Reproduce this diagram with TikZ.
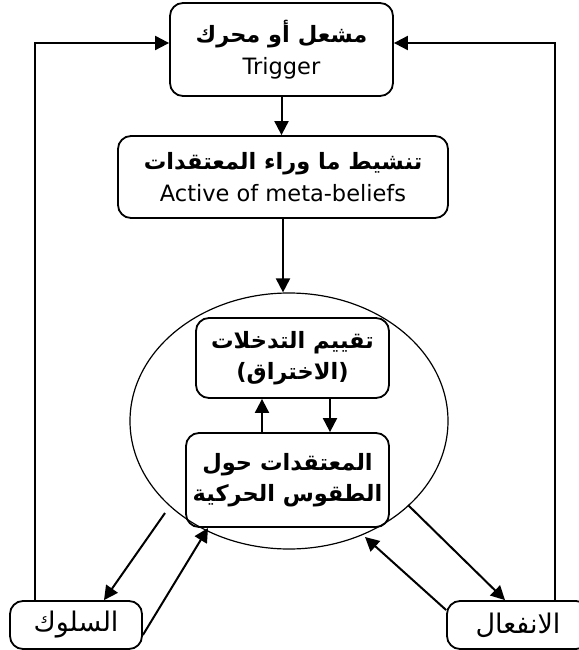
\documentclass[tikz,border=0pt]{standalone}
\usepackage{fontspec}
\setmainfont{DejaVu Sans}
\newfontfamily\arabicfont[Script=Arabic]{DejaVu Sans}
\TeXXeTstate=1
\usetikzlibrary{arrows.meta,shapes.geometric}

\newcommand{\ar}[1]{{\arabicfont\beginR #1\endR}}
\newcommand{\arhead}[1]{{\fontsize{22.5}{31}\selectfont\bfseries\ar{#1}}}

\begin{document}
\begin{tikzpicture}[x=1pt,y=-1pt,>={Triangle[length=14pt,width=14pt]},line width=2pt,
  box/.style={draw,rounded corners=13pt,align=center,inner sep=0pt,line width=1.8pt},
  bigtext/.style={font=\fontsize{22.5}{32}\selectfont},
  midtext/.style={font=\fontsize{22.5}{31}\selectfont\bfseries},
  smalltext/.style={font=\fontsize{27}{30}\selectfont},
  ring/.style={draw,ellipse,line width=1.2pt,minimum width=318pt,minimum height=256pt}]
    \useasboundingbox (0,0) rectangle (578,650);

    % main chain
    \node[box,bigtext,minimum width=223pt,minimum height=93pt] (trigger) at (281.5,49.5)
        {\arhead{مشعل أو محرك}\\Trigger};
    \node[box,bigtext,minimum width=330pt,minimum height=82pt] (meta) at (283,177)
        {\arhead{تنشيط ما وراء  المعتقدات}\\Active of meta-beliefs};

    % the circle with its two boxes
    \node[ring] (circ) at (289,421) {};
    \node[box,midtext,minimum width=193pt,minimum height=80pt] (eval) at (292.5,358)
        {\ar{تقييم التدخلات}\\\ar{(الاختراق)}};
    \node[box,midtext,minimum width=203pt,minimum height=94pt] (rituals) at (287.5,480)
        {\ar{المعتقدات حول}\\\ar{الطقوس الحركية}};

    % outcomes
    \node[box,smalltext,minimum width=132pt,minimum height=48pt] (behav) at (76,625) {\ar{السلوك}};
    \node[box,smalltext,minimum width=142pt,minimum height=48pt] (emot) at (518,625) {\ar{الانفعال}};

    \coordinate (lcorner) at (35,43);
    \coordinate (rcorner) at (555,43);
    \coordinate (lout) at (165,513);
    \coordinate (lin) at (208,528);
    \coordinate (rout) at (408,505);
    \coordinate (rin) at (365,537);

    \draw[->] (trigger.south) -- (trigger.south |- meta.north);
    \draw[->] (meta.south) -- (meta.south |- circ.north);
    \draw[->] ([xshift=-25.5pt]rituals.north) -- ([xshift=-25.5pt]rituals.north |- eval.south);
    \draw[->] ([xshift=37.5pt]eval.south) -- ([xshift=37.5pt]eval.south |- rituals.north);

    \draw[->] (lout) -- ([xshift=28pt]behav.north);
    \draw[->] ([yshift=-10pt]behav.east) -- (lin);
    \draw[->] (rout) -- ([xshift=-13pt]emot.north);
    \draw[->] ([yshift=15pt]emot.west) -- (rin);

    \draw[->] (behav.north -| lcorner) -- (lcorner) -- (trigger.west |- lcorner);
    \draw[->] (emot.north -| rcorner) -- (rcorner) -- (trigger.east |- rcorner);
\end{tikzpicture}
\end{document}
